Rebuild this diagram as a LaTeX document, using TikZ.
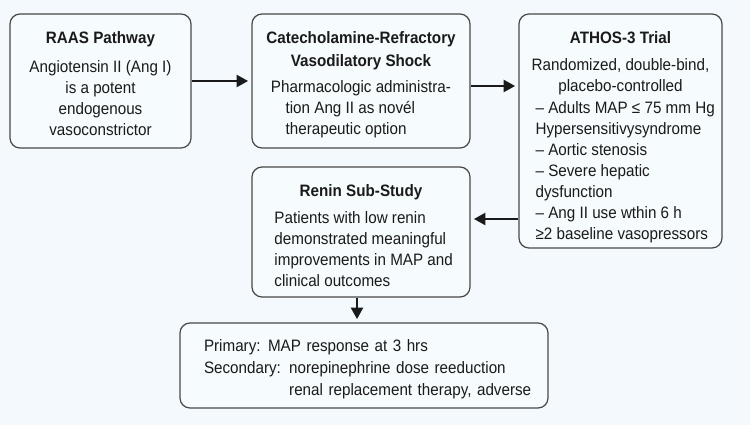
\documentclass[tikz,border=0pt]{standalone}
\usepackage{fontspec}
\setmainfont[FakeStretch=0.92]{Liberation Sans}
\usetikzlibrary{positioning,arrows.meta,calc}
\definecolor{bgc}{RGB}{243,249,252}
\definecolor{boxc}{RGB}{246,251,253}
\definecolor{linec}{RGB}{72,72,72}
\definecolor{textc}{RGB}{26,26,26}
\newcommand{\topgap}[1]{\rule{0pt}{#1}}

\begin{document}
\begin{tikzpicture}[x=0.75pt,y=-0.75pt,>={Triangle[length=8.5pt,width=9pt]},
  font=\fontsize{12.4}{15.75}\selectfont,
  stepbox/.style={draw=linec,fill=boxc,line width=0.9pt,rounded corners=7.5pt,
    inner sep=0pt,text=textc,align=center},
  link/.style={->,textc,line width=1.5pt,shorten >=2.5pt}]
  \fill[bgc] (0,0) rectangle (750,425);
  \useasboundingbox (0,0) rectangle (750,425);
  % boxes
  \node[stepbox,minimum width=135.75pt,minimum height=100.5pt] (raas) at (100.5,81)
    {\topgap{13.5pt}\textbf{RAAS Pathway}\\[6pt]
     Angiotensin II (Ang I)\\is a potent\\endogenous\\vasoconstrictor};
  \node[stepbox,minimum width=163.5pt,minimum height=100.5pt] (shock) at (361,81)
    {\topgap{16.5pt}\textbf{Catecholamine-Refractory}\\[1.5pt]\textbf{Vasodilatory Shock}\\[3.5pt]
     \begin{tabular}[t]{@{}l@{}}Pharmacologic administra-\\
     \hspace*{11pt}tion Ang II as novél\\
     \hspace*{11pt}therapeutic option\end{tabular}};
  \node[stepbox,minimum width=152.25pt,minimum height=175.5pt] (athos) at (620.5,131)
    {\topgap{20pt}\textbf{ATHOS-3 Trial}\\[4.5pt]
     Randomized, double-bind,\\placebo-controlled\\[0.5pt]
     \hspace*{7pt}\begin{tabular}[t]{@{}l@{}}– Adults MAP ≤ 75 mm Hg\\
     Hypersensitivysyndrome\\
     – Aortic stenosis\\
     – Severe hepatic\\
     dysfunction\\
     – Ang II use wthin 6 h\\
     ≥2 baseline vasopressors\end{tabular}};
  \node[stepbox,minimum width=163.5pt,minimum height=97.5pt] (renin) at (361,232)
    {\topgap{18.8pt}\textbf{Renin Sub-Study}\\[4.5pt]
     \hspace*{4pt}\begin{tabular}[t]{@{}l@{}}Patients with low renin\\
     demonstrated meaningful\\
     improvements in MAP and\\
     clinical outcomes\end{tabular}};
  \node[stepbox,align=left,inner xsep=18pt,text width=240pt,minimum height=63.75pt]
    (outcome) at (364,365.5)
    {\mbox{\topgap{15pt}Primary:\hspace{0.45em}MAP response at 3 hrs}\\[0.75pt]
     \mbox{Secondary: norepinephrine dose reeduction}\\[0.75pt]
     \mbox{\phantom{Secondary: }renal replacement therapy, adverse}};
  % connectors
  \draw[link] (raas) -- (shock);
  \draw[link] ([yshift=-3.75pt]shock.east) -- ([yshift=-3.75pt]shock.east -| athos.west);
  \draw[link] ([yshift=9.75pt]renin.east -| athos.west) -- ([yshift=9.75pt]renin.east);
  \draw[link] ([xshift=-3pt]renin.south) -- ([xshift=-3pt]renin.south |- outcome.north);
\end{tikzpicture}
\end{document}
